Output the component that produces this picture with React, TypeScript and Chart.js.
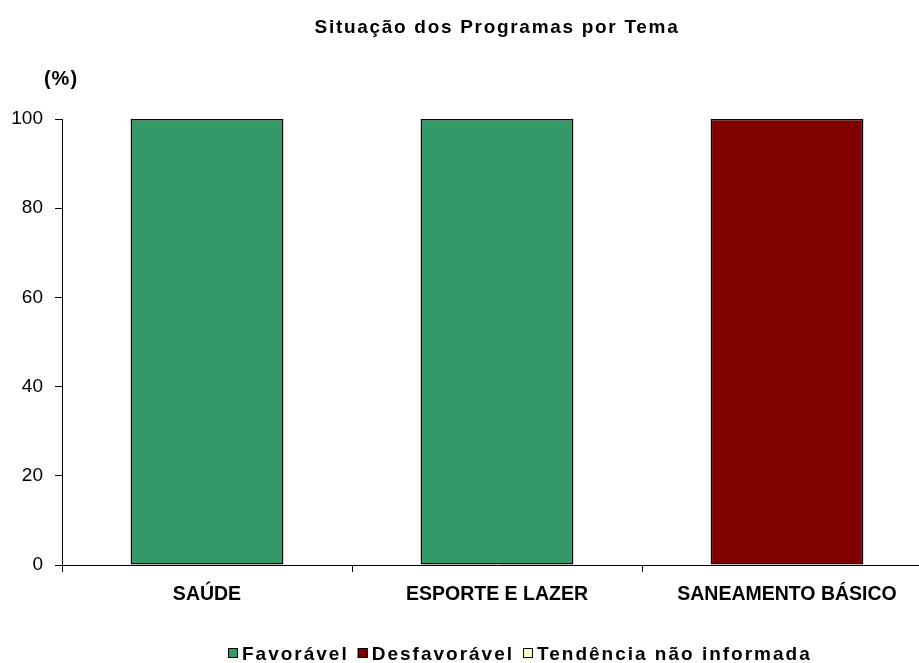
import React, { useEffect, useRef } from "react";
import { Chart, registerables } from "chart.js";

Chart.register(...registerables);

const TITLE = "Situação dos Programas por Tema";
const Y_UNIT = "(%)";
const CATEGORIES = ["SAÚDE", "ESPORTE E LAZER", "SANEAMENTO BÁSICO"];
const SERIES_NAMES = ["Favorável", "Desfavorável", "Tendência não informada"];
const FAVORAVEL = [100, 100, 0];
const DESFAVORAVEL = [0, 0, 100];
const NAO_INFORMADA = [0, 0, 0];
const SERIES_COLORS = ["#339966", "#800000", "#FFFFCC"];
const Y_MIN = 0;
const Y_MAX = 100;
const Y_STEP = 20;

const FONT = '"Liberation Sans", Arial, Helvetica, sans-serif';

const W = 932;
const H = 663;

const textPlugin = {
  id: "customText",
  afterDraw(chart: any) {
    const ctx = chart.ctx as CanvasRenderingContext2D;
    const area = chart.chartArea;
    ctx.save();
    ctx.fillStyle = "#000";
    // Title
    (ctx as any).letterSpacing = "1.7px";
    ctx.font = `bold 19px ${FONT}`;
    ctx.textAlign = "center";
    ctx.textBaseline = "alphabetic";
    ctx.fillText(TITLE, (area.left + area.right) / 2, 33);
    // Unit
    (ctx as any).letterSpacing = "1px";
    ctx.font = `bold 20px ${FONT}`;
    ctx.fillText(Y_UNIT, 61, 85);
    // Legend
    (ctx as any).letterSpacing = "2px";
    ctx.font = `bold 19px ${FONT}`;
    ctx.textAlign = "left";
    const datasets = chart.data.datasets;
    const box = 10;
    const gapBoxText = 4;
    const gapItems = 9;
    const widths = datasets.map((d: any) => ctx.measureText(d.label).width);
    let total = 0;
    widths.forEach((w: number, i: number) => {
      total += box + gapBoxText + w + (i > 0 ? gapItems : 0);
    });
    let x = Math.round(520 - total / 2);
    const boxTop = 648;
    datasets.forEach((d: any, i: number) => {
      ctx.fillStyle = d.backgroundColor;
      ctx.fillRect(x, boxTop, box, box);
      ctx.strokeStyle = "#000";
      ctx.lineWidth = 1;
      ctx.strokeRect(x + 0.5, boxTop + 0.5, box - 1, box - 1);
      ctx.fillStyle = "#000";
      ctx.fillText(d.label, x + box + gapBoxText, 660);
      x += box + gapBoxText + widths[i] + gapItems;
    });
    (ctx as any).letterSpacing = "0px";
    ctx.restore();
  },
};

export default function App() {
  const ref = useRef<HTMLCanvasElement | null>(null);

  useEffect(() => {
    if (!ref.current) return;
    const values = [FAVORAVEL, DESFAVORAVEL, NAO_INFORMADA];
    const chart = new Chart(ref.current, {
      type: "bar",
      data: {
        labels: CATEGORIES,
        datasets: SERIES_NAMES.map((name, i) => ({
          label: name,
          data: values[i],
          backgroundColor: SERIES_COLORS[i],
          borderColor: "#000",
          borderWidth: values[i].map((v) => (v ? 1.5 : 0)),
          borderSkipped: false,
          categoryPercentage: 1,
          barPercentage: 0.527,
        })),
      },
      options: {
        responsive: false,
        animation: false,
        devicePixelRatio: 1,
        layout: { padding: { top: 119, left: 0, right: 0, bottom: 60 } },
        plugins: {
          legend: { display: false },
          title: { display: false },
          tooltip: { enabled: false },
        },
        scales: {
          x: {
            stacked: true,
            offset: true,
            afterFit: (s: any) => {
              s.height = 38;
            },
            grid: {
              display: true,
              offset: true,
              drawOnChartArea: false,
              drawTicks: true,
              tickLength: 7,
              color: "#000",
            },
            border: { display: true, color: "#000", width: 1 },
            ticks: {
              color: "#000",
              padding: 11,
              maxRotation: 0,
              autoSkip: false,
              font: { family: FONT, size: 19.5, weight: "bold" },
            },
          },
          y: {
            stacked: true,
            min: Y_MIN,
            max: Y_MAX,
            afterFit: (s: any) => {
              s.width = 62;
            },
            grid: {
              display: true,
              drawOnChartArea: false,
              drawTicks: true,
              tickLength: 7,
              color: "#000",
            },
            border: { display: true, color: "#000", width: 1 },
            ticks: {
              stepSize: Y_STEP,
              color: "#000",
              padding: 12,
              font: { family: FONT, size: 19 },
            },
          },
        },
      },
      plugins: [textPlugin],
    } as any);
    return () => chart.destroy();
  }, []);

  return (
    <div
      style={{
        position: "absolute",
        left: 0,
        top: 0,
        width: 919,
        height: H,
        overflow: "hidden",
        background: "#fff",
      }}
    >
      <canvas ref={ref} width={W} height={H} style={{ width: W, height: H, display: "block" }} />
    </div>
  );
}
